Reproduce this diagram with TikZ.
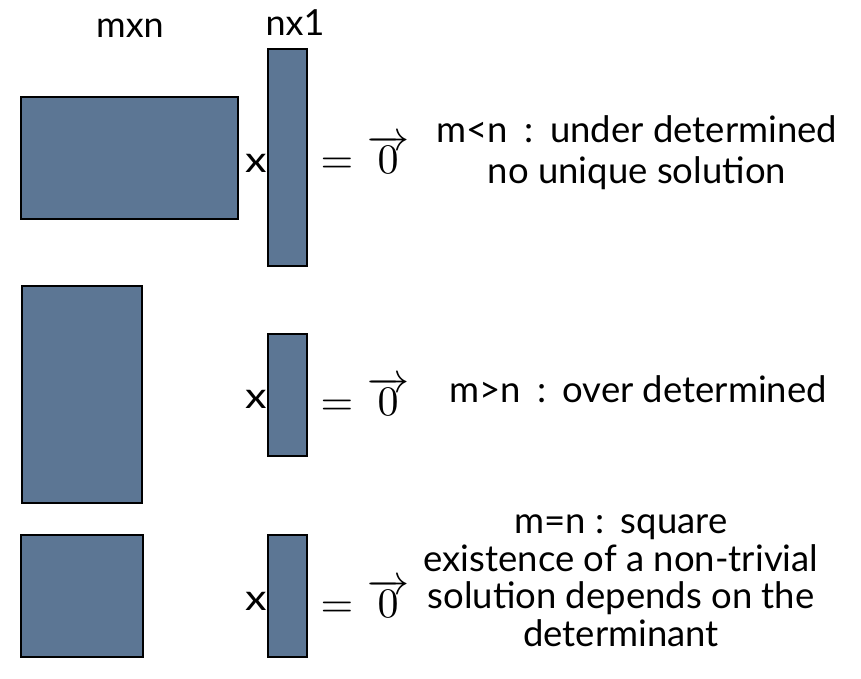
\documentclass[tikz,border=0pt]{standalone}
\usepackage{fontspec}
\setmainfont{Lato}
\definecolor{matfill}{RGB}{92,118,148}
\tikzset{
  matbox/.style={draw=black, line width=2.3pt, fill=matfill, inner sep=0pt},
  lbl/.style={inner sep=0pt, anchor=base, font=\fontsize{36}{36}\selectfont},
  times/.style={inner sep=0pt, anchor=base, xscale=1.2, font=\fontsize{36}{36}\selectfont},
  eqsign/.style={inner sep=0pt, anchor=base, scale=4.2},
  note/.style={inner sep=0pt, anchor=base, align=center, font=\fontsize{36.5}{41}\selectfont}
}
\newcommand{\zerovec}{$\overrightarrow{\:0\:}$}
\begin{document}
\begin{tikzpicture}[x=1pt, y=-1pt]
\useasboundingbox (0,0) rectangle (861,678);

% column headings
\node[lbl] (hA) at (130,37) {mxn};
\node[lbl] (hx) at (295,35) {nx1};

% m<n
\node[matbox, minimum width=217pt, minimum height=122pt] (A1) at (129.5,158) {};
\node[matbox, minimum width=39pt, minimum height=217pt] (x1) at (287.5,157.5) {};
\node[times] (t1) at (256,172) {x};
\node[eqsign] (e1) at (337,173) {$=$};
\node[eqsign] (z1) at (388,173) {\zerovec};
\node[note] (n1) at (637,183) {m<n\hspace{0.45em}:\hspace{0.45em}under determined\\no unique solution};

% m>n
\node[matbox, minimum width=120pt, minimum height=217pt] (A2) at (82,394.5) {};
\node[matbox, minimum width=39pt, minimum height=122pt] (x2) at (287.5,395) {};
\node[times] (t2) at (256,408) {x};
\node[eqsign] (e2) at (337,415) {$=$};
\node[eqsign] (z2) at (388,415) {\zerovec};
\node[note] (n2) at (638,402) {m>n\hspace{0.45em}:\hspace{0.45em}over determined};

% m=n
\node[matbox, minimum width=122pt, minimum height=122pt] (A3) at (82,596) {};
\node[matbox, minimum width=39pt, minimum height=122pt] (x3) at (287.5,596) {};
\node[times] (t3) at (256,610) {x};
\node[eqsign] (e3) at (337,617) {$=$};
\node[eqsign] (z3) at (388,617) {\zerovec};
\node[note, font=\fontsize{36.5}{37.5}\selectfont] (n3) at (621,646)
  {m=n :\hspace{0.1em} square\\existence of a non-trivial\\solution depends on the\\determinant};
\end{tikzpicture}
\end{document}
